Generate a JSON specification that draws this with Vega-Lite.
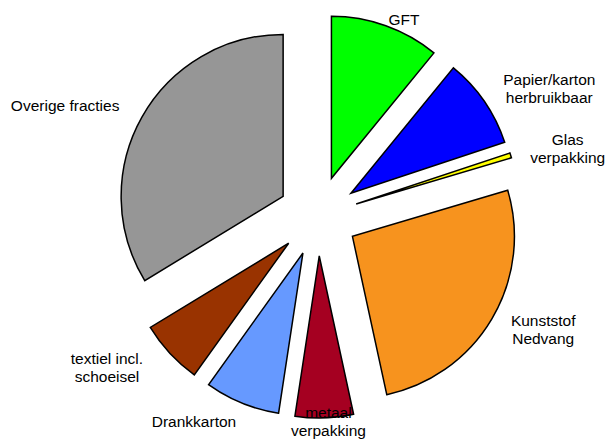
{
  "$schema": "https://vega.github.io/schema/vega-lite/v6.json",
  "width": 578,
  "height": 432,
  "autosize": {"type": "none"},
  "padding": {"left": 29, "top": 0, "right": 0, "bottom": 11},
  "background": "white",
  "config": {"view": {"stroke": null}},
  "data": {
    "values": [
      {"name": "GFT", "value": 10.9},
      {"name": "Papier/karton\nherbruikbaar", "value": 9.0},
      {"name": "Glas\nverpakking", "value": 0.5},
      {"name": "Kunststof\nNedvang", "value": 26.2},
      {"name": "metaal\nverpakking", "value": 5.8},
      {"name": "Drankkarton", "value": 7.5},
      {"name": "textiel incl.\nschoeisel", "value": 6.4},
      {"name": "Overige fracties", "value": 33.7}
    ]
  },
  "transform": [
    {"joinaggregate": [{"op": "sum", "field": "value", "as": "total"}]},
    {"stack": "value", "groupby": [], "as": ["v0", "v1"]}
  ],
  "layer": [
    {
      "mark": {
        "type": "arc",
        "radius": 162,
        "stroke": "black",
        "strokeWidth": 1.5,
        "strokeJoin": "miter",
        "xOffset": {"expr": "40*sin(PI*(datum.v0+datum.v1)/datum.total)"},
        "yOffset": {"expr": "-40*cos(PI*(datum.v0+datum.v1)/datum.total)"}
      },
      "encoding": {
        "theta": {"field": "v0", "type": "quantitative", "scale": {"domain": [0, 100], "zero": true}},
        "theta2": {"field": "v1"},
        "color": {
          "field": "name",
          "type": "nominal",
          "legend": null,
          "scale": {
            "domain": ["GFT", "Papier/karton\nherbruikbaar", "Glas\nverpakking", "Kunststof\nNedvang", "metaal\nverpakking", "Drankkarton", "textiel incl.\nschoeisel", "Overige fracties"],
            "range": ["#00FF00", "#0000FF", "#FFFF00", "#F7931E", "#A50021", "#6699FF", "#993300", "#969696"]
          }
        }
      }
    },
    {
      "mark": {
        "type": "text",
        "font": "Liberation Sans",
        "fontSize": 15.5,
        "lineBreak": "\n",
        "lineHeight": 18,
        "align": "center",
        "baseline": "middle",
        "color": "black",
        "x": {"expr": "width/2+224*sin(PI*(datum.v0+datum.v1)/datum.total)+clamp(3*sin(PI*(datum.v0+datum.v1)/datum.total),-1,1)*3.6*max(indexof(datum.name,'\\n'),length(datum.name)-indexof(datum.name,'\\n')-1)"},
        "y": {"expr": "clamp(height/2-224*cos(PI*(datum.v0+datum.v1)/datum.total),20,height-10)-(indexof(datum.name,'\\n')>=0?9:0)"}
      },
      "encoding": {
        "text": {"field": "name", "type": "nominal"}
      }
    }
  ]
}
